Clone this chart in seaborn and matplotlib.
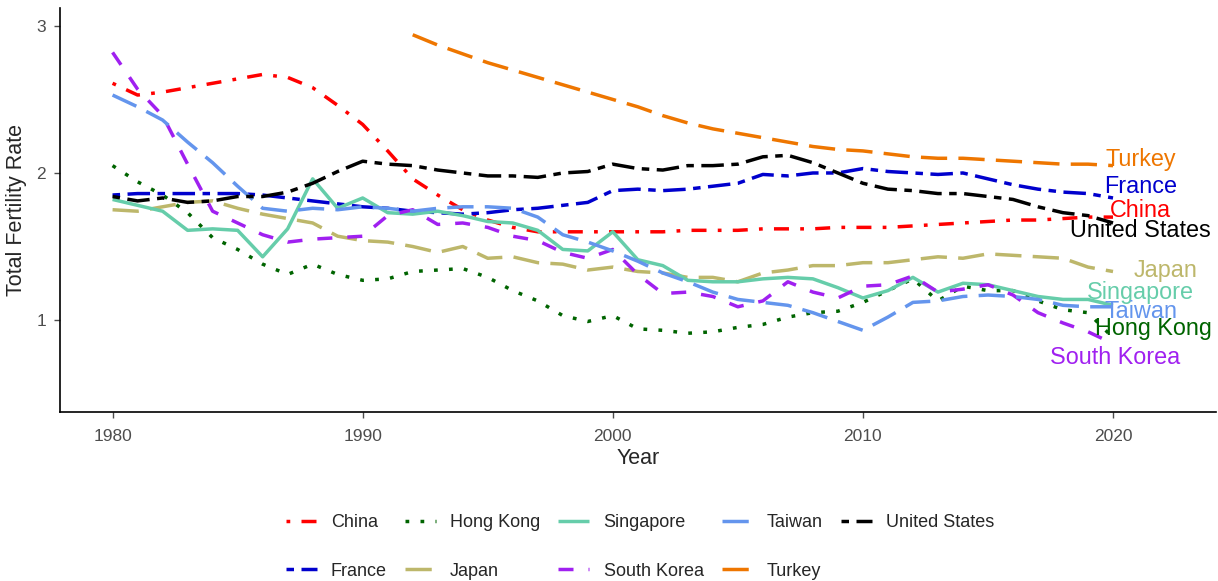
import matplotlib
matplotlib.use("Agg")
import matplotlib.pyplot as plt
import numpy as np
import pandas as pd
import seaborn as sns

years = list(range(1980, 2021))
turkey_years = list(range(1992, 2021))

china = [2.61, 2.53, 2.55, 2.58, 2.61, 2.64, 2.67, 2.65, 2.58, 2.46,
         2.33, 2.15, 1.96, 1.85, 1.75, 1.68, 1.63, 1.60, 1.60, 1.60,
         1.60, 1.60, 1.60, 1.61, 1.61, 1.61, 1.62, 1.62, 1.62, 1.63,
         1.63, 1.63, 1.64, 1.65, 1.66, 1.67, 1.68, 1.68, 1.69, 1.70, 1.70]
france = [1.85, 1.86, 1.86, 1.86, 1.86, 1.86, 1.85, 1.83, 1.81, 1.79,
          1.77, 1.76, 1.74, 1.73, 1.72, 1.73, 1.75, 1.76, 1.78, 1.80,
          1.88, 1.89, 1.88, 1.89, 1.91, 1.93, 1.99, 1.98, 2.00, 2.00,
          2.03, 2.01, 2.00, 1.99, 2.00, 1.96, 1.92, 1.89, 1.87, 1.86, 1.83]
hong_kong = [2.05, 1.94, 1.85, 1.73, 1.56, 1.48, 1.38, 1.31, 1.38, 1.31,
             1.27, 1.28, 1.33, 1.34, 1.35, 1.29, 1.20, 1.13, 1.03, 0.99,
             1.03, 0.94, 0.93, 0.91, 0.92, 0.95, 0.97, 1.02, 1.05, 1.06,
             1.12, 1.20, 1.28, 1.13, 1.23, 1.20, 1.20, 1.13, 1.07, 1.05, 0.88]
japan = [1.75, 1.74, 1.77, 1.80, 1.81, 1.76, 1.72, 1.69, 1.66, 1.57,
         1.54, 1.53, 1.50, 1.46, 1.50, 1.42, 1.43, 1.39, 1.38, 1.34,
         1.36, 1.33, 1.32, 1.29, 1.29, 1.26, 1.32, 1.34, 1.37, 1.37,
         1.39, 1.39, 1.41, 1.43, 1.42, 1.45, 1.44, 1.43, 1.42, 1.36, 1.33]
singapore = [1.82, 1.78, 1.74, 1.61, 1.62, 1.61, 1.43, 1.62, 1.96, 1.76,
             1.83, 1.73, 1.72, 1.74, 1.71, 1.67, 1.66, 1.61, 1.48, 1.47,
             1.60, 1.41, 1.37, 1.27, 1.26, 1.26, 1.28, 1.29, 1.28, 1.22,
             1.15, 1.20, 1.29, 1.19, 1.25, 1.24, 1.20, 1.16, 1.14, 1.14, 1.10]
south_korea = [2.82, 2.57, 2.39, 2.06, 1.74, 1.66, 1.58, 1.53, 1.55, 1.56,
               1.57, 1.71, 1.75, 1.65, 1.66, 1.63, 1.57, 1.54, 1.46, 1.42,
               1.48, 1.31, 1.18, 1.19, 1.16, 1.09, 1.13, 1.26, 1.19, 1.15,
               1.23, 1.24, 1.30, 1.19, 1.21, 1.24, 1.17, 1.05, 0.98, 0.92, 0.84]
taiwan = [2.53, 2.45, 2.36, 2.21, 2.07, 1.91, 1.76, 1.74, 1.76, 1.75,
          1.77, 1.76, 1.74, 1.76, 1.77, 1.77, 1.76, 1.70, 1.58, 1.53,
          1.47, 1.40, 1.32, 1.26, 1.19, 1.14, 1.12, 1.10, 1.05, 0.99,
          0.93, 1.02, 1.12, 1.13, 1.16, 1.17, 1.16, 1.14, 1.10, 1.09, 1.09]
turkey = [2.94, 2.87, 2.81, 2.75, 2.70, 2.65, 2.60, 2.55, 2.50, 2.45,
          2.39, 2.34, 2.30, 2.27, 2.24, 2.21, 2.18, 2.16, 2.15, 2.13,
          2.11, 2.10, 2.10, 2.09, 2.08, 2.07, 2.06, 2.06, 2.05]
united_states = [1.84, 1.81, 1.83, 1.80, 1.81, 1.84, 1.84, 1.87, 1.93, 2.01,
                 2.08, 2.06, 2.05, 2.02, 2.00, 1.98, 1.98, 1.97, 2.00, 2.01,
                 2.06, 2.03, 2.02, 2.05, 2.05, 2.06, 2.11, 2.12, 2.07, 2.00,
                 1.93, 1.89, 1.88, 1.86, 1.86, 1.84, 1.82, 1.77, 1.73, 1.71, 1.66]

countries = ["China", "France", "Hong Kong", "Japan", "Singapore",
             "South Korea", "Taiwan", "Turkey", "United States"]
series = {
    "China": (years, china),
    "France": (years, france),
    "Hong Kong": (years, hong_kong),
    "Japan": (years, japan),
    "Singapore": (years, singapore),
    "South Korea": (years, south_korea),
    "Taiwan": (years, taiwan),
    "Turkey": (turkey_years, turkey),
    "United States": (years, united_states),
}
colors = {
    "China": "#FF0000",
    "France": "#0000CD",
    "Hong Kong": "#006400",
    "Japan": "#BDB76B",
    "Singapore": "#66CDAA",
    "South Korea": "#A020F0",
    "Taiwan": "#6495ED",
    "Turkey": "#EE7600",
    "United States": "#000000",
}
u = 2.7  # dash unit in points
dashes = {
    "China": (u, 3 * u, 4 * u, 3 * u),
    "France": (2 * u, 2 * u, 6 * u, 2 * u),
    "Hong Kong": (u, 3 * u),
    "Japan": (7 * u, 3 * u),
    "Singapore": None,
    "South Korea": (4 * u, 4 * u),
    "Taiwan": (7 * u, 3 * u),
    "Turkey": (7 * u, 3 * u),
    "United States": (2 * u, 2 * u, 6 * u, 2 * u),
}
# label positions (year, value)
label_pos = {
    "Turkey": (2021.1, 2.09),
    "France": (2021.1, 1.91),
    "China": (2021.1, 1.745),
    "United States": (2021.1, 1.61),
    "Japan": (2022.1, 1.34),
    "Singapore": (2021.1, 1.19),
    "Taiwan": (2021.1, 1.055),
    "Hong Kong": (2021.6, 0.94),
    "South Korea": (2020.1, 0.745),
}

sns.set_theme(style="ticks")
plt.rcParams["font.family"] = ["Liberation Sans", "DejaVu Sans"]
plt.rcParams["lines.scale_dashes"] = False

fig = plt.figure(figsize=(12.18, 5.81), dpi=100)
ax = fig.add_axes([0.0493, 0.291, 0.9487, 0.696])

handles = []
for name in countries:
    x, y = series[name]
    df = pd.DataFrame({"Year": x, "TFR": y})
    sns.lineplot(data=df, x="Year", y="TFR", color=colors[name], ax=ax,
                 linewidth=2.5, label=name)
    line = ax.get_lines()[-1]
    if dashes[name] is not None:
        line.set_dashes(dashes[name])
    line.set_solid_capstyle("butt")
    handles.append(line)

for name in countries:
    lx, ly = label_pos[name]
    ax.text(lx, ly, name, color=colors[name], fontsize=16.8,
            ha="center", va="center")

ax.set_xlim(1977.9, 2024.1)
ax.set_ylim(0.375, 3.125)
ax.set_xticks([1980, 1990, 2000, 2010, 2020])
ax.set_yticks([1, 2, 3])
ax.set_xlabel("Year", fontsize=15.5, labelpad=3)
ax.set_ylabel("Total Fertility Rate", fontsize=15.5, labelpad=7)
ax.tick_params(axis="x", pad=8)
ax.tick_params(axis="y", pad=6)
ax.tick_params(axis="both", labelsize=12.5, colors="#4D4D4D", length=4,
               width=1)
for s in ["left", "bottom"]:
    ax.spines[s].set_color("black")
    ax.spines[s].set_linewidth(1.2)
sns.despine(ax=ax)

ax.legend(handles=handles, labels=countries, loc="center",
          bbox_to_anchor=(0.5255, 0.059), bbox_transform=fig.transFigure,
          ncol=5, frameon=False, fontsize=13, handlelength=1.7,
          handletextpad=0.8, columnspacing=1.0, labelspacing=1.75)

fig.savefig("out.png", dpi=100)
